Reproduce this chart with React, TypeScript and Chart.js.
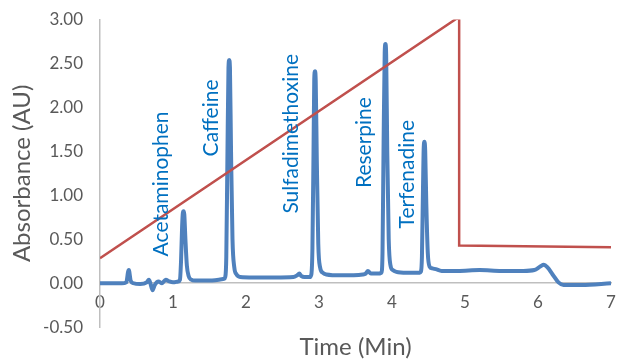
import React, { useEffect, useRef } from "react";
import { Chart, registerables } from "chart.js";

Chart.register(...registerables);

// Chromatogram (blue): time in minutes, absorbance in AU
const timeMin = [
  0.0, 0.3, 0.36, 0.385, 0.395, 0.42, 0.46, 0.55, 0.64, 0.67, 0.69, 0.72, 0.75, 0.8, 0.85, 0.9, 0.95, 1.0, 1.07,
  1.095, 1.11, 1.125, 1.135, 1.145, 1.155, 1.17, 1.19, 1.215, 1.25, 1.3, 1.5, 1.7,
  1.715, 1.73, 1.745, 1.76, 1.77, 1.78, 1.795, 1.815, 1.84, 1.87, 1.92, 2.1, 2.4, 2.65, 2.7, 2.73, 2.76, 2.8, 2.87,
  2.895, 2.91, 2.925, 2.935, 2.945, 2.955, 2.97, 2.99, 3.015, 3.05, 3.1, 3.3, 3.6, 3.64, 3.67, 3.71, 3.8,
  3.855, 3.87, 3.885, 3.9, 3.91, 3.92, 3.935, 3.955, 3.98, 4.01, 4.06, 4.2, 4.38,
  4.395, 4.41, 4.425, 4.435, 4.445, 4.455, 4.47, 4.49, 4.515, 4.55, 4.6, 4.68, 4.9, 5.2, 5.5, 5.8, 5.95, 6.03, 6.08, 6.13, 6.2, 6.28, 6.35, 6.6, 7.0,
];
const absorbance = [
  0.0, 0.0, 0.01, 0.13, 0.15, 0.03, 0.0, -0.01, 0.01, 0.04, 0.0, -0.08, -0.02, 0.02, 0.0, 0.04, 0.02, 0.01, 0.02,
  0.04, 0.25, 0.65, 0.8, 0.82, 0.78, 0.5, 0.2, 0.08, 0.04, 0.03, 0.03, 0.05,
  0.07, 0.3, 1.4, 2.45, 2.54, 2.45, 1.5, 0.5, 0.18, 0.1, 0.07, 0.065, 0.065, 0.07, 0.09, 0.11, 0.08, 0.07, 0.07,
  0.1, 0.4, 1.5, 2.32, 2.41, 2.3, 1.4, 0.45, 0.18, 0.12, 0.1, 0.09, 0.1, 0.11, 0.14, 0.11, 0.11,
  0.12, 0.35, 1.6, 2.62, 2.72, 2.6, 1.5, 0.5, 0.2, 0.15, 0.13, 0.12, 0.12,
  0.13, 0.3, 1.1, 1.55, 1.61, 1.5, 0.9, 0.35, 0.19, 0.17, 0.16, 0.14, 0.14, 0.15, 0.14, 0.14, 0.15, 0.19, 0.21, 0.18, 0.1, 0.01, -0.02, -0.02, 0.0,
];

// Gradient (red)
const gradientTime = [0, 4.92, 4.92, 7.0];
const gradientValue = [0.285, 3.03, 0.43, 0.41];

// Peak labels
const peakNames = ["Acetaminophen", "Caffeine", "Sulfadimethoxine", "Reserpine", "Terfenadine"];
const peakLabelTime = [0.84, 1.53, 2.62, 3.62, 4.21];
const peakLabelAbs = [1.13, 1.88, 1.7, 1.6, 1.24];

const xMin = 0;
const xMax = 7;
const yMin = -0.5;
const yMax = 3;

const FONT = "Lato, 'Open Sans', sans-serif";
const GREY = "#595959";
const AXIS = "#BFBFBF";

const peakLabelPlugin = {
  id: "peakLabels",
  afterDatasetsDraw(chart: any) {
    const { ctx } = chart;
    const xs = chart.scales.x;
    const ys = chart.scales.y;
    ctx.save();
    ctx.fillStyle = "#0070C0";
    ctx.font = `21px ${FONT}`;
    ctx.textAlign = "center";
    ctx.textBaseline = "middle";
    peakNames.forEach((name, i) => {
      const px = xs.getPixelForValue(peakLabelTime[i]);
      const py = ys.getPixelForValue(peakLabelAbs[i]);
      ctx.save();
      ctx.translate(px, py);
      ctx.rotate(-Math.PI / 2);
      ctx.fillText(name, 0, 0);
      ctx.restore();
    });
    ctx.restore();
  },
};

export default function App() {
  const ref = useRef<HTMLCanvasElement | null>(null);

  useEffect(() => {
    if (!ref.current) return;
    const chart = new Chart(ref.current, {
      type: "line",
      data: {
        datasets: [
          {
            label: "Gradient",
            data: gradientTime.map((t, i) => ({ x: t, y: gradientValue[i] })),
            borderColor: "#C0504D",
            borderWidth: 2.5,
            pointRadius: 0,
            tension: 0,
            order: 0,
          },
          {
            label: "Absorbance",
            data: timeMin.map((t, i) => ({ x: t, y: absorbance[i] })),
            borderColor: "#4F81BD",
            borderWidth: 4,
            pointRadius: 0,
            cubicInterpolationMode: "monotone",
            order: 1,
          },
        ],
      },
      options: {
        responsive: false,
        animation: false,
        layout: { padding: { left: 0, top: 19.5, right: 6, bottom: 0 } },
        plugins: {
          legend: { display: false },
          tooltip: { enabled: false },
          title: {
            display: true,
            text: "Time (Min)",
            position: "bottom",
            fullSize: false,
            color: GREY,
            font: { family: FONT, size: 24, weight: "normal" },
            padding: { top: 5.5, bottom: -1.5 },
          },
        },
        scales: {
          x: {
            type: "linear",
            min: xMin,
            max: xMax,
            position: { y: 0 },
            afterFit: (s: any) => {
              s.height = 0;
              s.paddingLeft = 0;
              s.paddingRight = 0;
            },
            grid: { display: false, drawTicks: false },
            border: { display: true, color: AXIS, width: 1.5 },
            ticks: {
              stepSize: 1,
              color: GREY,
              padding: 9,
              maxRotation: 0,
              font: { family: FONT, size: 17 },
            },
          },
          y: {
            type: "linear",
            min: yMin,
            max: yMax,
            afterFit: (s: any) => {
              s.width = 100;
              s.paddingTop = 0;
              s.paddingBottom = 0;
            },
            grid: { display: false, drawTicks: false },
            border: { display: true, color: AXIS, width: 1.5 },
            ticks: {
              stepSize: 0.5,
              color: GREY,
              padding: 17,
              font: { family: FONT, size: 17 },
              callback: (v: any) => Number(v).toFixed(2),
            },
            title: {
              display: true,
              text: "Absorbance (AU)",
              color: GREY,
              font: { family: FONT, size: 24 },
              padding: { top: 8, bottom: 0 },
            },
          },
        },
      },
      plugins: [peakLabelPlugin],
    });
    return () => chart.destroy();
  }, []);

  return (
    <div style={{ position: "absolute", left: 0, top: 0, width: 617, height: 360, background: "#fff" }}>
      <canvas ref={ref} width={617} height={360} />
    </div>
  );
}
